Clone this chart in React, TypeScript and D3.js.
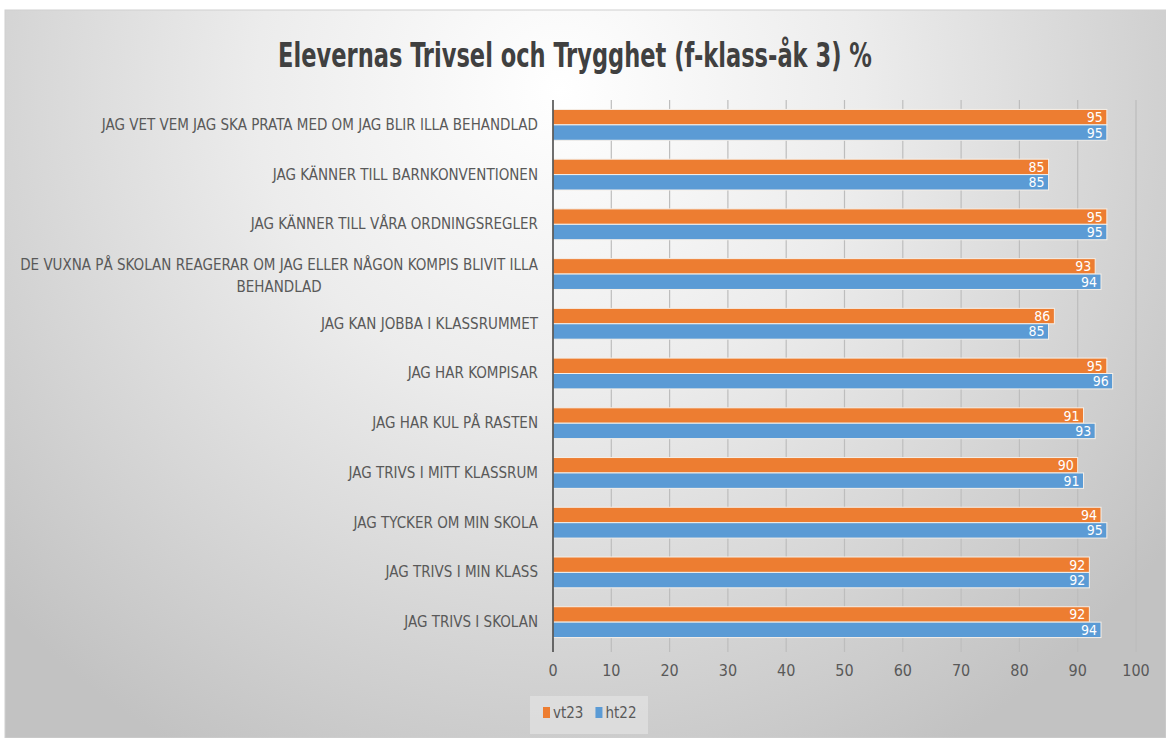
import React, { useRef, useEffect } from 'react';
import { select, scaleBand, scaleLinear, range } from 'd3';

const W = 1166;
const H = 738;

const categories = [
  'JAG VET VEM JAG SKA PRATA MED OM JAG BLIR ILLA BEHANDLAD',
  'JAG KÄNNER TILL BARNKONVENTIONEN',
  'JAG KÄNNER TILL VÅRA ORDNINGSREGLER',
  'DE VUXNA PÅ SKOLAN REAGERAR OM JAG ELLER NÅGON KOMPIS BLIVIT ILLA|BEHANDLAD',
  'JAG KAN JOBBA I KLASSRUMMET',
  'JAG HAR KOMPISAR',
  'JAG HAR KUL PÅ RASTEN',
  'JAG TRIVS I MITT KLASSRUM',
  'JAG TYCKER OM MIN SKOLA',
  'JAG TRIVS I MIN KLASS',
  'JAG TRIVS I SKOLAN',
];
const vt23 = [95, 85, 95, 93, 86, 95, 91, 90, 94, 92, 92];
const ht22 = [95, 85, 95, 94, 85, 96, 93, 91, 95, 92, 94];
const seriesNames = ['vt23', 'ht22'];
const seriesColors = ['#ed7d31', '#5b9bd5'];
const tickValues = range(0, 101, 10);

const FONT = "'DejaVu Sans Condensed', 'Liberation Sans', sans-serif";

const App = () => {
  const svgRef = useRef<SVGSVGElement>(null);

  useEffect(() => {
    document.body.style.margin = '0';
    const svg = select(svgRef.current);
    svg.selectAll('*').remove();

    const defs = svg.append('defs');
    const grad = defs
      .append('radialGradient')
      .attr('id', 'bg')
      .attr('gradientUnits', 'userSpaceOnUse')
      .attr('cx', 560)
      .attr('cy', 90)
      .attr('r', 760);
    grad.append('stop').attr('offset', '0%').attr('stop-color', '#ffffff');
    grad.append('stop').attr('offset', '40%').attr('stop-color', '#ececec');
    grad.append('stop').attr('offset', '100%').attr('stop-color', '#c2c2c2');

    svg.append('rect').attr('width', W).attr('height', H).attr('fill', '#ffffff');
    svg
      .append('rect')
      .attr('x', 5)
      .attr('y', 10)
      .attr('width', W - 5)
      .attr('height', H - 10)
      .attr('fill', 'url(#bg)')
      .attr('stroke', '#d0d0d0');

    // title, squeezed to look like a condensed face
    svg
      .append('text')
      .attr('transform', 'translate(575,67) scale(0.76,1)')
      .attr('text-anchor', 'middle')
      .attr('font-family', FONT)
      .attr('font-weight', 'bold')
      .attr('font-size', 33)
      .attr('fill', '#404040')
      .text('Elevernas Trivsel och Trygghet (f-klass-åk 3) %');

    const xScale = scaleLinear().domain([0, 100]).range([553, 1136]);
    const yScale = scaleBand<string>()
      .domain(categories)
      .range([100, 647])
      .paddingInner(0.38)
      .paddingOuter(0.19);
    const sScale = scaleBand<string>().domain(seriesNames).range([0, yScale.bandwidth()]);

    // gridlines
    svg
      .selectAll('.grid')
      .data(tickValues.slice(1))
      .join('line')
      .attr('class', 'grid')
      .attr('x1', d => xScale(d))
      .attr('x2', d => xScale(d))
      .attr('y1', 100)
      .attr('y2', 652)
      .attr('stroke', '#bdbdbd')
      .attr('stroke-width', 1.2);

    // tick labels
    svg
      .selectAll('.tick')
      .data(tickValues)
      .join('text')
      .attr('class', 'tick')
      .attr('x', d => xScale(d))
      .attr('y', 676)
      .attr('text-anchor', 'middle')
      .attr('font-family', FONT)
      .attr('font-size', 16)
      .attr('fill', '#595959')
      .text(d => d);

    const rows = categories.map((c, i) => ({ c, values: [vt23[i], ht22[i]] }));

    const groups = svg
      .selectAll('.row')
      .data(rows)
      .join('g')
      .attr('class', 'row')
      .attr('transform', d => `translate(0,${yScale(d.c)})`);

    groups.each(function (row) {
      const g = select(this);
      row.values.forEach((v, si) => {
        const y = sScale(seriesNames[si]) as number;
        g.append('rect')
          .attr('x', xScale(0))
          .attr('y', y)
          .attr('width', xScale(v) - xScale(0))
          .attr('height', sScale.bandwidth())
          .attr('fill', seriesColors[si])
          .attr('stroke', '#f5efe8')
          .attr('stroke-width', 1);
        g.append('text')
          .attr('x', xScale(v) - 4)
          .attr('y', y + sScale.bandwidth() / 2 + 5)
          .attr('text-anchor', 'end')
          .attr('font-family', FONT)
          .attr('font-size', 14)
          .attr('fill', '#ffffff')
          .text(v);
      });

      // category label
      const lines = row.c.split('|');
      const mid = yScale.bandwidth() / 2;
      if (lines.length === 1) {
        g.append('text')
          .attr('x', 538)
          .attr('y', mid + 5)
          .attr('text-anchor', 'end')
          .attr('font-family', FONT)
          .attr('font-size', 15)
          .attr('fill', '#595959')
          .text(lines[0]);
      } else {
        const first = g
          .append('text')
          .attr('x', 538)
          .attr('y', mid - 4)
          .attr('text-anchor', 'end')
          .attr('font-family', FONT)
          .attr('font-size', 15)
          .attr('fill', '#595959')
          .text(lines[0]);
        const w = (first.node() as SVGTextElement).getComputedTextLength();
        g.append('text')
          .attr('x', 538 - w / 2)
          .attr('y', mid + 18)
          .attr('text-anchor', 'middle')
          .attr('font-family', FONT)
          .attr('font-size', 15)
          .attr('fill', '#595959')
          .text(lines[1]);
      }
    });

    // axis line at 0
    svg
      .append('line')
      .attr('x1', xScale(0))
      .attr('x2', xScale(0))
      .attr('y1', 100)
      .attr('y2', 652)
      .attr('stroke', '#404040')
      .attr('stroke-width', 1.5);

    // legend
    const legend = svg.append('g').attr('transform', 'translate(530,696)');
    legend.append('rect').attr('width', 118).attr('height', 38).attr('fill', '#e6e6e6').attr('opacity', 0.6);
    let lx = 13;
    seriesNames.forEach((name, i) => {
      legend.append('rect').attr('x', lx).attr('y', 11).attr('width', 7).attr('height', 11).attr('fill', seriesColors[i]);
      const t = legend
        .append('text')
        .attr('x', lx + 10)
        .attr('y', 22)
        .attr('font-family', FONT)
        .attr('font-size', 15)
        .attr('fill', '#595959')
        .text(name);
      lx += 10 + (t.node() as SVGTextElement).getComputedTextLength() + 12;
    });
  }, []);

  return (
    <div>
      <svg ref={svgRef} width={W} height={H} style={{ display: 'block' }}></svg>
    </div>
  );
};

export default App;
